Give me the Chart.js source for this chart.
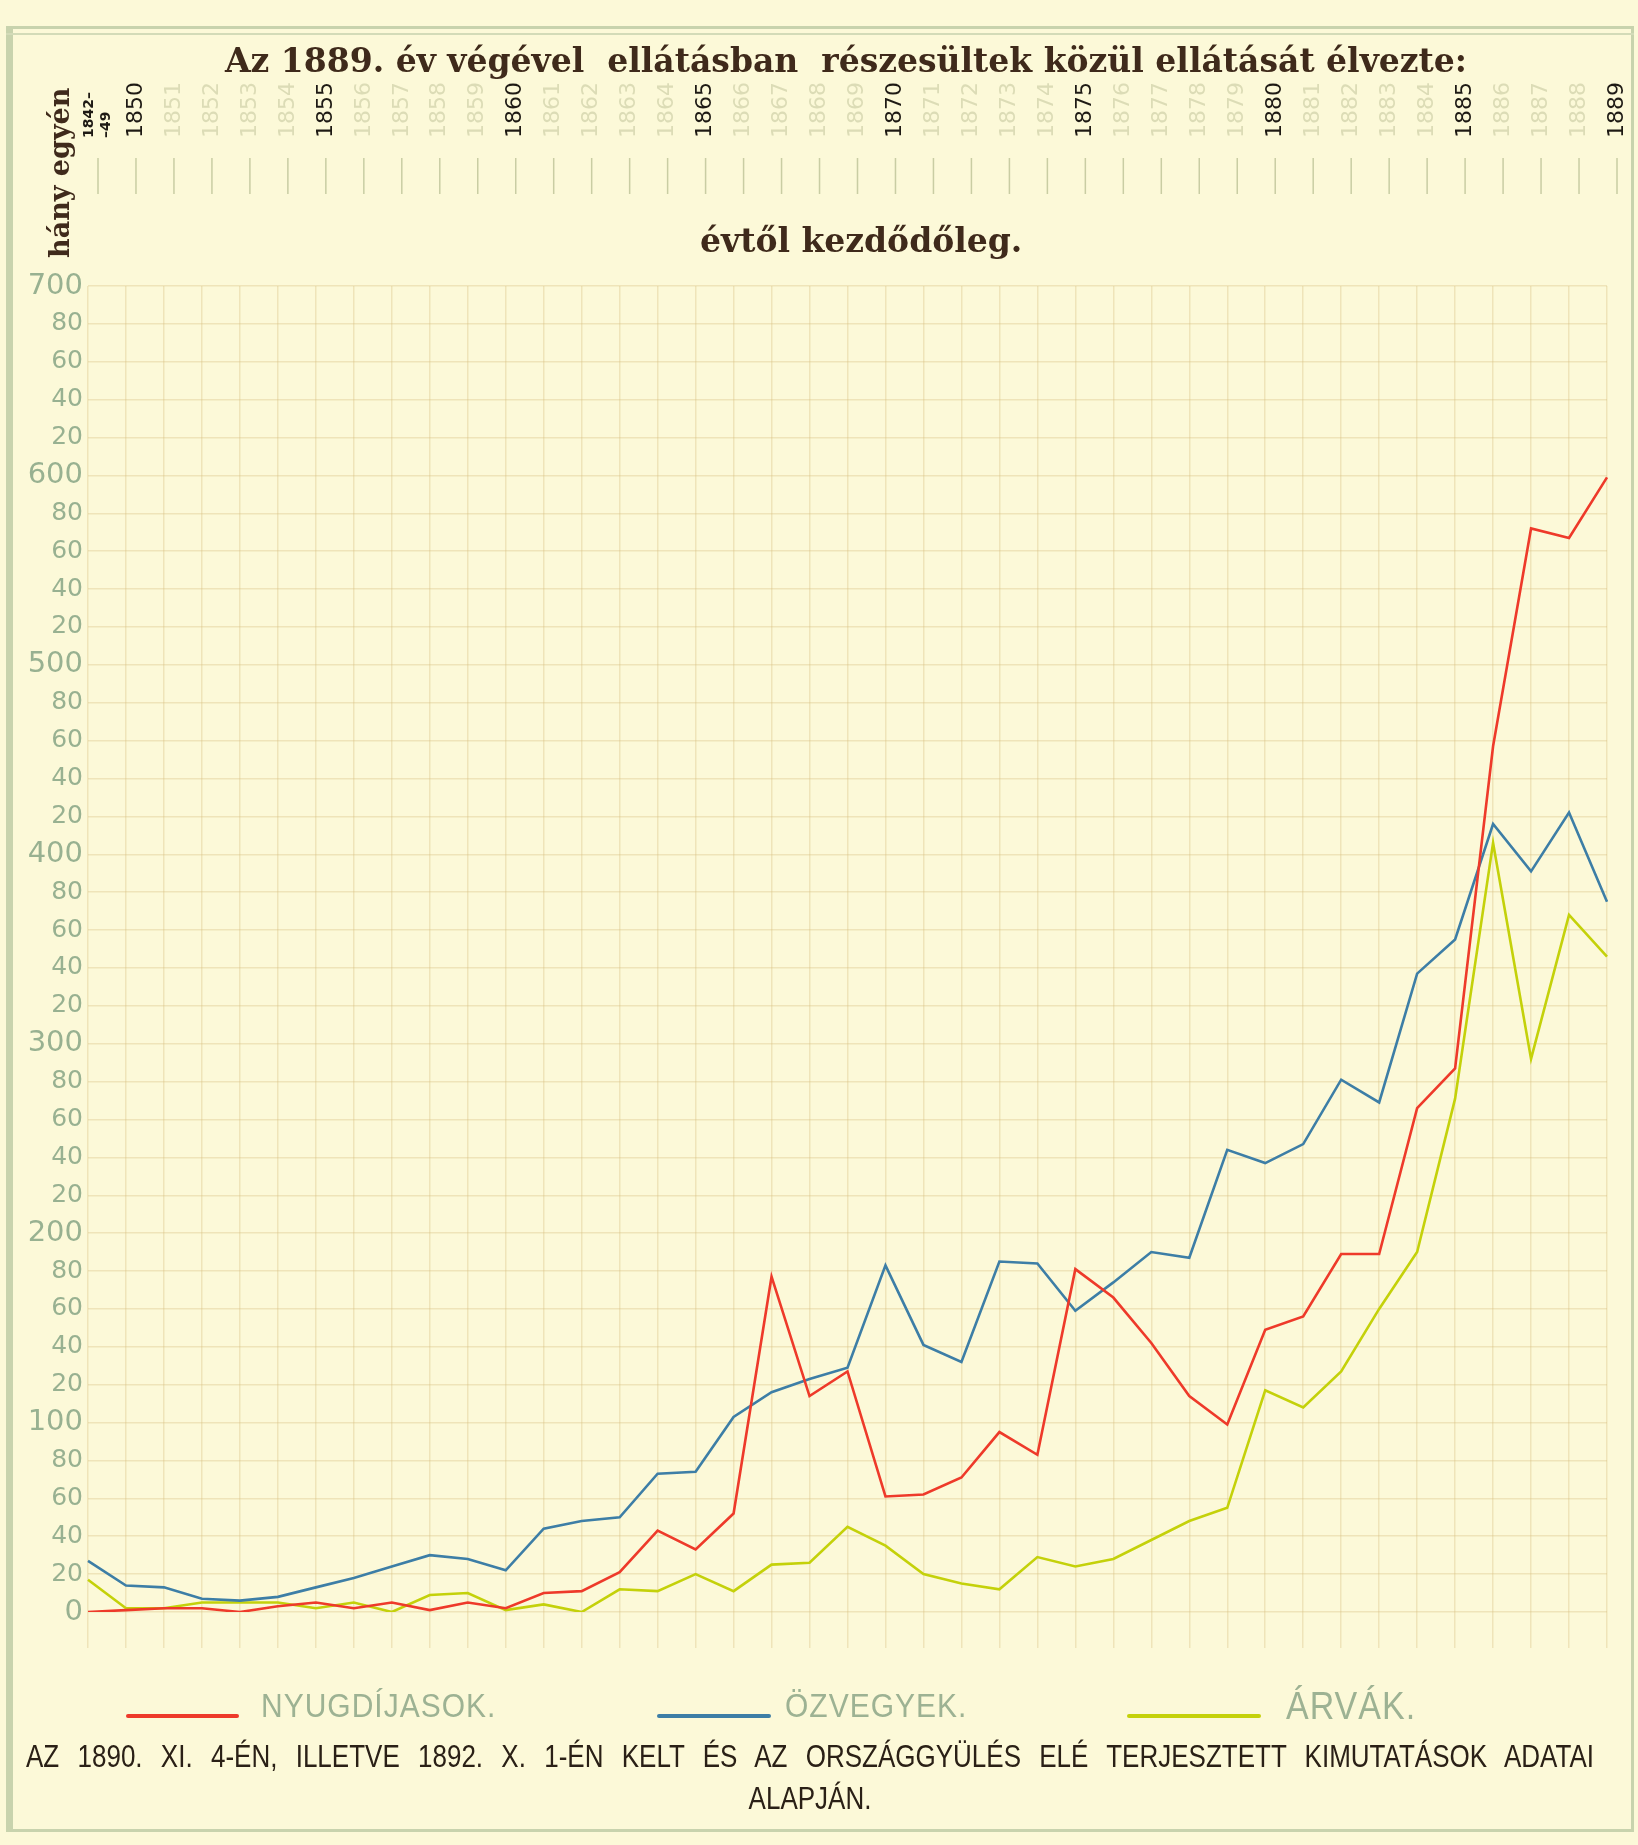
<!DOCTYPE html>
<html lang="hu">
<head>
<meta charset="utf-8">
<title>Az 1889. év végével ellátásban részesültek</title>
<script src="https://cdn.jsdelivr.net/npm/chart.js@4.4.1/dist/chart.umd.min.js"></script>
<style>
    html, body { margin: 0; padding: 0; background: #fcf9d8; }
    #page { position: relative; width: 1638px; height: 1845px; overflow: hidden; background: #fcf9d8; }
    #frame { position: absolute; left: 6px; top: 26px; width: 1628px; height: 1806px; box-sizing: border-box;
             border: 3px solid #c8d3ad; border-left-width: 7px; }
    #frame_top { position: absolute; left: 6px; top: 33px; width: 1628px; height: 2px; background: #d3dbb8; }
    #chart_box { position: absolute; left: 0; top: 0; width: 1638px; height: 1845px; }
    .txt { position: absolute; white-space: nowrap; }
    .hand { font-family: 'DejaVu Serif', serif; font-weight: bold; color: #3f2a1b; }
    #title { left: 196px; top: 40px; width: 1300px; text-align: center; font-size: 33px; line-height: 42px; }
    #subtitle { left: 700px; top: 220px; width: 300px; text-align: center; font-size: 33px; line-height: 42px; }
    #ytitle { left: -20px; top: 160px; width: 160px; height: 36px; line-height: 36px; text-align: center;
              font-size: 27px; transform: rotate(-90deg); }
    .leg_line { position: absolute; height: 4px; top: 1714px; border-radius: 2px; }
    .leg_txt { top: 1688px; font-family: 'Liberation Sans', sans-serif; font-size: 30px; line-height: 36px;
               color: #9db293; letter-spacing: 1px; transform: scaleY(1.12); }
    .foot { left: 26px; width: 1568px; font-family: 'Liberation Sans', sans-serif; font-size: 26px; line-height: 30px;
            color: #2a2016; text-align: center; transform: scaleY(1.2); }
    #foot1 { top: 1741px; text-align: justify; text-align-last: justify; }
    #foot2 { top: 1783px; }
</style>
</head>
<body>
<div id="page">
    <div id="frame"></div>
    <div id="frame_top"></div>
    <div id="chart_box"><canvas id="graphe"></canvas></div>

    <div id="title" class="txt hand">Az 1889. év végével&nbsp; ellátásban&nbsp; részesültek közül ellátását élvezte:</div>
    <div id="subtitle" class="txt hand">évtől kezdődőleg.</div>
    <div id="ytitle" class="txt hand">hány egyén</div>

    <div class="leg_line" style="left:126px; width:113px; background:#ee3a2a;"></div>
    <div class="txt leg_txt" style="left:261px;">NYUGDÍJASOK.</div>
    <div class="leg_line" style="left:657px; width:114px; background:#3d7ea6;"></div>
    <div class="txt leg_txt" style="left:785px;">ÖZVEGYEK.</div>
    <div class="leg_line" style="left:1127px; width:134px; background:#c4d10a;"></div>
    <div class="txt leg_txt" style="left:1286px; font-size:34px;">ÁRVÁK.</div>

    <div id="foot1" class="txt foot">AZ 1890. XI. 4-ÉN, ILLETVE 1892. X. 1-ÉN KELT ÉS AZ ORSZÁGGYÜLÉS ELÉ TERJESZTETT KIMUTATÁSOK ADATAI</div>
    <div id="foot2" class="txt foot">ALAPJÁN.</div>
</div>

<script>
// Évek (felső tengely) :
var V_evek = [['1842–', '–49'], '1850', '1851', '1852', '1853', '1854', '1855', '1856', '1857', '1858', '1859',
    '1860', '1861', '1862', '1863', '1864', '1865', '1866', '1867', '1868', '1869',
    '1870', '1871', '1872', '1873', '1874', '1875', '1876', '1877', '1878', '1879',
    '1880', '1881', '1882', '1883', '1884', '1885', '1886', '1887', '1888', '1889'];

// Kiemelt (sötét) évszámok :
var V_kiemelt = ['1850', '1855', '1860', '1865', '1870', '1875', '1880', '1885', '1889'];

// Hány egyén, sorozatonként :
var V_nyugdijasok = [0, 1, 2, 2, 0, 3, 5, 2, 5, 1,
    5, 2, 10, 11, 21, 43, 33, 52, 177, 114,
    127, 61, 62, 71, 95, 83, 181, 166, 142, 114,
    99, 149, 156, 189, 189, 266, 287, 457, 572, 567, 599];

var V_ozvegyek = [27, 14, 13, 7, 6, 8, 13, 18, 24, 30,
    28, 22, 44, 48, 50, 73, 74, 103, 116, 123,
    129, 183, 141, 132, 185, 184, 159, 174, 190, 187,
    244, 237, 247, 281, 269, 337, 355, 416, 391, 422, 375];

var V_arvak = [17, 2, 2, 5, 5, 5, 2, 5, 0, 9,
    10, 1, 4, 0, 12, 11, 20, 11, 25, 26,
    45, 35, 20, 15, 12, 29, 24, 28, 38, 48,
    55, 117, 108, 127, 160, 190, 271, 406, 292, 368, 346];

var S_racs = 'rgba(214, 188, 125, 0.34)';

// Évszámok eltolása (a kézi rajzon kissé jobbra esnek) :
var I_eltolas = 10;
var I_sorMagassag = 22 * 1.2;

// Kis vonalak az évszámok alatt :
var O_topTicksPlugin = {
    id: 'topTicks',
    afterDraw: function(O_chart){
        var O_scale = O_chart.scales.xTop;
        var O_ctx = O_chart.ctx;
        O_ctx.save();
        O_ctx.strokeStyle = 'rgba(188, 194, 150, 0.8)';
        O_ctx.lineWidth = 1.5;
        for (let I_index = 0; I_index < O_scale.ticks.length; I_index++) {
            var I_x = O_scale.getPixelForTick(I_index) + I_eltolas;
            O_ctx.beginPath();
            O_ctx.moveTo(I_x, 158);
            O_ctx.lineTo(I_x, 194);
            O_ctx.stroke();
        }
        O_ctx.restore();
    }
};

function F_isKiemelt(I_index){
    return I_index === 0 || V_kiemelt.indexOf(V_evek[I_index]) !== -1;
}

// A tengelyek ne toljak el a rajzterületet :
function F_noPadding(O_axis){
    O_axis.paddingLeft = 0;
    O_axis.paddingRight = 0;
}

var O_ctx_graphe = document.getElementById('graphe').getContext('2d');

var O_graphe = new Chart(O_ctx_graphe, {
    type: 'line',
    data: {
        labels: V_evek,
        datasets: [
            { label: 'NYUGDÍJASOK', data: V_nyugdijasok, borderColor: '#ee3a2a' },
            { label: 'ÖZVEGYEK', data: V_ozvegyek, borderColor: '#3d7ea6' },
            { label: 'ÁRVÁK', data: V_arvak, borderColor: '#c4d10a' }
        ]
    },
    options: {
        responsive: true,
        maintainAspectRatio: false,
        animation: false,
        layout: { padding: { left: 0, right: 31, top: 0, bottom: 0 } },
        elements: {
            line: { borderWidth: 2.6, tension: 0, fill: false },
            point: { radius: 0 }
        },
        plugins: {
            legend: { display: false },
            tooltip: { enabled: false }
        },
        scales: {
            x: {
                type: 'category',
                position: 'bottom',
                offset: false,
                ticks: { display: false },
                grid: { color: S_racs, lineWidth: 1.5, tickLength: 36 },
                border: { display: false },
                afterFit: function(O_axis){ O_axis.height = 1845 - 1612; F_noPadding(O_axis); }
            },
            xTop: {
                type: 'category',
                position: 'top',
                offset: false,
                labels: V_evek,
                grid: { display: false },
                border: { display: false },
                ticks: {
                    autoSkip: false,
                    minRotation: 90,
                    maxRotation: 90,
                    padding: 140,
                    labelOffset: I_sorMagassag + I_eltolas,
                    color: function(O_c){ return F_isKiemelt(O_c.index) ? '#1e1a14' : '#dcdcb6'; },
                    font: function(O_c){
                        if(O_c.index === 0){ return { family: 'DejaVu Sans', size: 14, weight: 'bold', lineHeight: I_sorMagassag / 1.5 / 14 }; }
                        return { family: 'DejaVu Sans', size: 22, lineHeight: 1.2 };
                    }
                },
                afterFit: function(O_axis){ O_axis.height = 286; F_noPadding(O_axis); }
            },
            y: {
                min: 0,
                max: 700,
                ticks: {
                    stepSize: 20,
                    maxTicksLimit: 40,
                    autoSkip: false,
                    padding: 5,
                    color: '#98b191',
                    font: function(O_c){
                        var I_v = O_c.tick ? O_c.tick.value : 0;
                        return { family: 'DejaVu Sans', size: I_v % 100 === 0 ? 29 : 25 };
                    },
                    callback: function(I_value){
                        return I_value % 100 === 0 ? String(I_value) : String(I_value % 100);
                    }
                },
                grid: { color: S_racs, lineWidth: 1.5, drawTicks: false },
                border: { display: false },
                afterFit: function(O_axis){ O_axis.width = 88; }
            }
        }
    },
    plugins: [O_topTicksPlugin]
});
</script>
</body>
</html>
